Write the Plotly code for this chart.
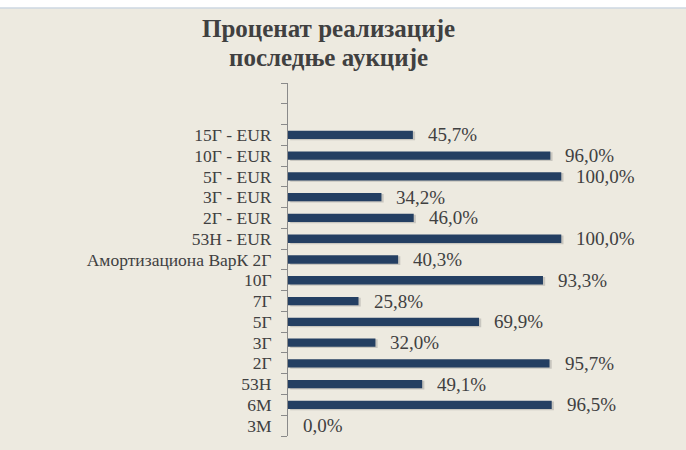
import plotly.graph_objects as go

categories = ["15Г - EUR", "10Г - EUR", "5Г - EUR", "3Г - EUR", "2Г - EUR",
              "53Н - EUR", "Амортизациона ВарК 2Г", "10Г", "7Г", "5Г", "3Г",
              "2Г", "53Н", "6М", "3М"]
values = [45.7, 96.0, 100.0, 34.2, 46.0, 100.0, 40.3, 93.3, 25.8, 69.9, 32.0,
          95.7, 49.1, 96.5, 0.0]
labels = ["45,7%", "96,0%", "100,0%", "34,2%", "46,0%", "100,0%", "40,3%",
          "93,3%", "25,8%", "69,9%", "32,0%", "95,7%", "49,1%", "96,5%", "0,0%"]
title_lines = ["Проценат реализације", "последње аукције"]
blank_slots = [" ", "  "]

BG = "#edeae0"
BAR = "#243f62"
TXT = "#404040"
SERIF = "Liberation Serif"

TOP = 83      # plot area top (px)
PH = 353      # plot area height (px)


def py(pix):
    """pixel row -> paper y"""
    return 1 + (TOP - pix) / PH


# bottom-to-top order for the category axis
cat_order = list(reversed(categories)) + blank_slots

fig = go.Figure()
# soft shadow under the bars
fig.add_trace(go.Bar(
    y=categories, x=values, orientation="h", base=0.8,
    marker=dict(color="rgba(90,90,90,0.25)", line=dict(width=0)),
    width=0.42, offset=-0.26, hoverinfo="skip", showlegend=False,
))
fig.add_trace(go.Bar(
    y=categories, x=values, orientation="h",
    marker=dict(color=BAR, line=dict(width=0)),
    width=0.40, offset=-0.20, showlegend=False,
))

for c, v, t in zip(categories, values, labels):
    fig.add_annotation(x=v, y=c, text=t, xanchor="left", yanchor="middle",
                       xshift=13, showarrow=False,
                       font=dict(family=SERIF, size=19, color=TXT))

for line, pix in zip(title_lines, [29, 57]):
    fig.add_annotation(xref="paper", yref="paper", x=(328 - 288) / 358,
                       y=py(pix), text=line, xanchor="center",
                       yanchor="middle", showarrow=False,
                       font=dict(family=SERIF, size=25, color=TXT,
                                 weight="bold"))

fig.add_shape(type="rect", xref="paper", yref="paper", x0=-1, x1=2,
              y0=py(8), y1=py(-5), fillcolor="white",
              line=dict(width=0), layer="above")
fig.add_shape(type="line", xref="paper", yref="paper", x0=-1, x1=2,
              y0=py(8), y1=py(8),
              line=dict(color="#cdd7e2", width=1.5), layer="above")

fig.update_layout(
    width=686, height=450,
    paper_bgcolor=BG, plot_bgcolor=BG,
    margin=dict(l=288, r=40, t=TOP, b=450 - TOP - PH, autoexpand=False),
    barmode="overlay",
    xaxis=dict(range=[0, 131], visible=False, fixedrange=True,
               automargin=False),
    yaxis=dict(type="category", categoryorder="array", categoryarray=cat_order,
               range=[-0.5, len(cat_order) - 0.5], automargin=False,
               dtick=1, tickson="boundaries", ticks="outside", ticklen=6,
               tickcolor="#8a8a8a", showline=True, linecolor="#8a8a8a",
               linewidth=1, showgrid=False, zeroline=False,
               tickfont=dict(family=SERIF, size=17.5, color=TXT),
               ticklabelstandoff=12, fixedrange=True),
)

fig.write_html("out.html", config={"displayModeBar": False},
               post_script="document.body.style.margin='0';")
